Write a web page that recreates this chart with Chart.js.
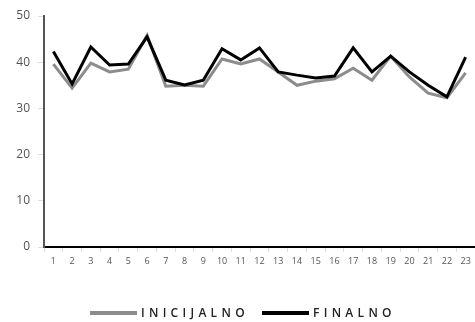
<!DOCTYPE html>
<html lang="hr">
  <head>
    <meta charset="UTF-8" />
    <title>Inicijalno / Finalno</title>
    <script src="https://cdn.jsdelivr.net/npm/chart.js"></script>
    <style>
      body {
        margin: 0;
        background: #fff;
        font-family: "Open Sans", Arial, sans-serif;
      }
      .wrap {
        position: relative;
        width: 475px;
        height: 322px;
      }
      .legend {
        position: absolute;
        top: 304px;
        left: 0;
        width: 475px;
        font-size: 12px;
        font-weight: 600;
        color: #222;
        letter-spacing: 4.3px;
      }
      .legend .item {
        position: absolute;
        display: flex;
        align-items: center;
      }
      .legend .swatch {
        display: inline-block;
        width: 47px;
        height: 4px;
        margin-right: 4px;
      }
    </style>
  </head>
  <body>
    <div class="wrap">
      <canvas id="lineChart" width="475" height="322"></canvas>
      <div class="legend">
        <div class="item" style="left: 90px">
          <span class="swatch" style="background: #8c8c8c"></span>INICIJALNO
        </div>
        <div class="item" style="left: 262px">
          <span class="swatch" style="background: #000"></span>FINALNO
        </div>
      </div>
    </div>

    <script>
      // data
      const labels = [
        "1", "2", "3", "4", "5", "6", "7", "8", "9", "10", "11", "12",
        "13", "14", "15", "16", "17", "18", "19", "20", "21", "22", "23",
      ];
      const inicijalno = [
        39.6, 34.4, 39.8, 37.9, 38.5, 45.8, 34.8, 35.0, 34.8, 40.7, 39.6, 40.7,
        37.9, 35.0, 35.9, 36.4, 38.7, 36.1, 41.3, 36.8, 33.3, 32.3, 37.7,
      ];
      const finalno = [
        42.3, 35.3, 43.3, 39.4, 39.6, 45.5, 36.1, 35.1, 36.1, 42.9, 40.5, 43.1,
        37.9, 37.2, 36.6, 37.0, 43.1, 37.9, 41.3, 37.9, 35.0, 32.5, 41.1,
      ];
      const yTicks = [0, 10, 20, 30, 40, 50];

      new Chart(document.getElementById("lineChart"), {
        type: "line",
        data: {
          labels: labels,
          datasets: [
            {
              label: "INICIJALNO",
              data: inicijalno,
              borderColor: "#8c8c8c",
              borderWidth: 3,
              pointRadius: 0,
              tension: 0,
              order: 2,
            },
            {
              label: "FINALNO",
              data: finalno,
              borderColor: "#000",
              borderWidth: 3,
              pointRadius: 0,
              tension: 0,
              order: 1,
            },
          ],
        },
        options: {
          responsive: false,
          animation: false,
          layout: { padding: { top: 16, right: 0, bottom: 40, left: 0 } },
          plugins: {
            legend: { display: false },
            tooltip: { enabled: false },
          },
          scales: {
            x: {
              offset: true,
              grid: {
                offset: true,
                drawOnChartArea: false,
                color: "#ddd",
                tickLength: 5,
              },
              border: { color: "#000", width: 2 },
              ticks: {
                color: "#555",
                font: { family: "Open Sans", size: 9 },
                padding: 4,
                maxRotation: 0,
                autoSkip: false,
              },
              afterFit: (scale) => {
                scale.height = 35;
              },
            },
            y: {
              min: 0,
              max: 50,
              afterBuildTicks: (scale) => {
                scale.ticks = yTicks.map((v) => ({ value: v }));
              },
              grid: {
                drawOnChartArea: false,
                color: "#ddd",
                tickLength: 6,
              },
              border: { color: "#555", width: 2 },
              ticks: {
                color: "#555",
                font: { family: "Open Sans", size: 12 },
                padding: 8,
              },
              afterFit: (scale) => {
                scale.width = 44;
              },
            },
          },
        },
      });
    </script>
  </body>
</html>
